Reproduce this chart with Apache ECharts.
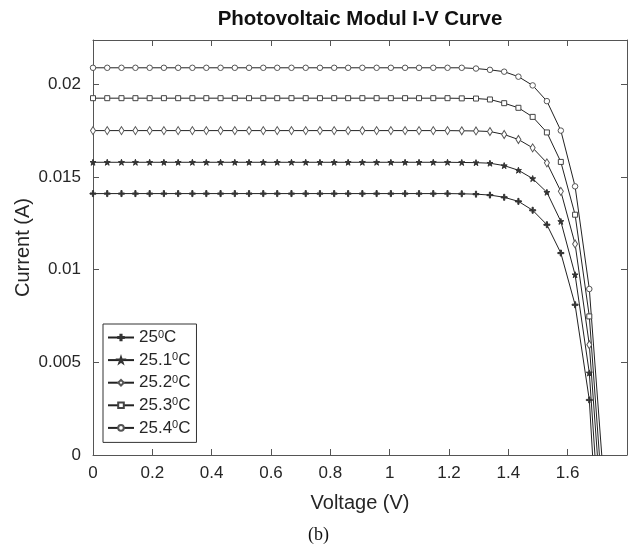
<!DOCTYPE html>
<html>
<head>
<meta charset="utf-8">
<script src="https://cdn.jsdelivr.net/npm/echarts@6/dist/echarts.min.js"></script>
<style>
  html, body { margin: 0; padding: 0; background: #fff; }
  #chart { width: 637px; height: 548px; }
</style>
</head>
<body>
<div id="chart"></div>
<script>
// Module terminal voltage (V) at each sample
const voltage = [
  0, 0.048, 0.096, 0.143, 0.191, 0.239, 0.287, 0.335, 0.382, 0.430,
  0.478, 0.526, 0.574, 0.621, 0.669, 0.717, 0.765, 0.813, 0.860, 0.908,
  0.956, 1.004, 1.052, 1.099, 1.147, 1.195, 1.243, 1.291, 1.338, 1.386,
  1.434, 1.482, 1.530, 1.577, 1.625, 1.673, 1.721
];

// Module current (A) for each cell temperature
const current250 = [
  0.01411, 0.01411, 0.01411, 0.01411, 0.01411, 0.01411, 0.01411, 0.01411, 0.01411, 0.01411,
  0.01411, 0.01411, 0.01411, 0.01411, 0.01411, 0.01411, 0.01411, 0.01411, 0.01411, 0.01411,
  0.01411, 0.01411, 0.01411, 0.01411, 0.01411, 0.01411, 0.01410, 0.01408, 0.01403, 0.01391,
  0.01369, 0.01321, 0.01243, 0.01090, 0.00811, 0.00297, -0.0100
];
const current251 = [
  0.01580, 0.01580, 0.01580, 0.01580, 0.01580, 0.01580, 0.01580, 0.01580, 0.01580, 0.01580,
  0.01580, 0.01580, 0.01580, 0.01580, 0.01580, 0.01580, 0.01580, 0.01580, 0.01580, 0.01580,
  0.01580, 0.01580, 0.01580, 0.01580, 0.01580, 0.01580, 0.01579, 0.01578, 0.01575, 0.01562,
  0.01537, 0.01492, 0.01418, 0.01261, 0.00973, 0.00443, -0.0068
];
const current252 = [
  0.01751, 0.01751, 0.01751, 0.01751, 0.01751, 0.01751, 0.01751, 0.01751, 0.01751, 0.01751,
  0.01751, 0.01751, 0.01751, 0.01751, 0.01751, 0.01751, 0.01751, 0.01751, 0.01751, 0.01751,
  0.01751, 0.01751, 0.01751, 0.01751, 0.01751, 0.01751, 0.01750, 0.01749, 0.01746, 0.01730,
  0.01703, 0.01658, 0.01577, 0.01423, 0.01139, 0.00595, -0.0046
];
const current253 = [
  0.01926, 0.01926, 0.01926, 0.01926, 0.01926, 0.01926, 0.01926, 0.01926, 0.01926, 0.01926,
  0.01926, 0.01926, 0.01926, 0.01926, 0.01926, 0.01926, 0.01926, 0.01926, 0.01926, 0.01926,
  0.01926, 0.01926, 0.01926, 0.01926, 0.01926, 0.01926, 0.01925, 0.01924, 0.01919, 0.01899,
  0.01874, 0.01825, 0.01741, 0.01582, 0.01297, 0.00748, -0.0031
];
const current254 = [
  0.02090, 0.02090, 0.02090, 0.02090, 0.02090, 0.02090, 0.02090, 0.02090, 0.02090, 0.02090,
  0.02090, 0.02090, 0.02090, 0.02090, 0.02090, 0.02090, 0.02090, 0.02090, 0.02090, 0.02090,
  0.02090, 0.02090, 0.02090, 0.02090, 0.02090, 0.02090, 0.02090, 0.02086, 0.02079, 0.02069,
  0.02042, 0.01995, 0.01910, 0.01751, 0.01450, 0.00896, -0.0013
];

const seriesNames = ['25⁰C', '25.1⁰C', '25.2⁰C', '25.3⁰C', '25.4⁰C'];
const currents = [current250, current251, current252, current253, current254];

const xTicks = [0, 0.2, 0.4, 0.6, 0.8, 1, 1.2, 1.4, 1.6];
const yTicks = [0, 0.005, 0.01, 0.015, 0.02];

// Marker shapes per curve: plus, star, diamond, square, circle
const markers = [
  { symbol: 'path://M4,0h2v4h4v2h-4v4h-2v-4h-4v-2h4z', size: 6, fill: '#333', border: '#333' },
  { symbol: 'path://M5,0L6.2,3.4L9.8,3.4L6.9,5.6L8,9L5,6.9L2,9L3.1,5.6L0.2,3.4L3.8,3.4z', size: 6, fill: '#333', border: '#333' },
  { symbol: 'diamond', size: [5, 8], fill: '#fff', border: '#555' },
  { symbol: 'rect', size: 5, fill: '#fff', border: '#444' },
  { symbol: 'circle', size: 5.5, fill: '#fff', border: '#555' }
];

const FONT = '"Liberation Sans", Arial, sans-serif';
const INK = '#262626';
const AXIS = '#555';

const series = seriesNames.map((name, s) => ({
  name: name,
  type: 'line',
  data: voltage.map((v, k) => [v, currents[s][k]]),
  symbol: markers[s].symbol,
  symbolSize: markers[s].size,
  showAllSymbol: true,
  clip: true,
  lineStyle: { color: '#222', width: 1 },
  itemStyle: { color: markers[s].fill, borderColor: markers[s].border, borderWidth: 1 },
  emphasis: { disabled: true },
  animation: false
}));

const chart = echarts.init(document.getElementById('chart'), null, { renderer: 'canvas' });

const onTick = (list) => (val) => list.some(t => Math.abs(t - val) < 1e-9) ? String(val) : '';

const boxAxisLine = { show: true, onZero: false, lineStyle: { color: AXIS, width: 1 } };
const boxAxisTick = { show: true, inside: true, length: 6, lineStyle: { color: AXIS } };

chart.setOption({
  backgroundColor: '#fff',
  animation: false,
  title: {
    text: 'Photovoltaic Modul I-V Curve',
    left: 355,
    textAlign: 'center',
    top: 4,
    textStyle: { fontFamily: FONT, fontSize: 20.5, fontWeight: 'bold', color: '#111' }
  },
  legend: {
    orient: 'vertical',
    left: 103,
    top: 324,
    padding: [5, 6, 6, 4],
    itemWidth: 26,
    itemHeight: 7,
    itemGap: 5.6,
    borderColor: '#333',
    borderWidth: 1,
    backgroundColor: '#fff',
    data: seriesNames,
    formatter: (name) => name.replace('⁰C', '{sup|0}C'),
    textStyle: {
      fontFamily: FONT, fontSize: 17, lineHeight: 17, color: INK,
      rich: {
        sup: { fontFamily: FONT, fontSize: 11, lineHeight: 17, verticalAlign: 'top', color: INK }
      }
    }
  },
  grid: { left: 93, right: 10, top: 40, bottom: 93, containLabel: false },
  xAxis: [
    {
      type: 'value', min: 0, max: 1.8, interval: 0.2,
      name: 'Voltage (V)', nameLocation: 'middle', nameGap: 38,
      nameMoveOverlap: false,
      nameTextStyle: { fontFamily: FONT, fontSize: 20, color: INK },
      axisLine: boxAxisLine,
      axisTick: boxAxisTick,
      axisLabel: { fontFamily: FONT, fontSize: 17, color: INK, margin: 10, formatter: onTick(xTicks) },
      splitLine: { show: false }
    },
    {
      type: 'value', min: 0, max: 1.8, interval: 0.2, position: 'top',
      axisLine: boxAxisLine,
      axisTick: boxAxisTick,
      axisLabel: { show: false },
      splitLine: { show: false }
    }
  ],
  yAxis: [
    {
      type: 'value', min: 0, max: 0.0224, interval: 0.005,
      name: 'Current (A)', nameLocation: 'middle', nameGap: 60,
      nameMoveOverlap: false,
      nameTextStyle: { fontFamily: FONT, fontSize: 20, color: INK },
      axisLine: boxAxisLine,
      axisTick: boxAxisTick,
      axisLabel: { fontFamily: FONT, fontSize: 17, color: INK, margin: 12, formatter: onTick(yTicks) },
      splitLine: { show: false }
    },
    {
      type: 'value', min: 0, max: 0.0224, interval: 0.005, position: 'right',
      axisLine: boxAxisLine,
      axisTick: boxAxisTick,
      axisLabel: { show: false },
      splitLine: { show: false }
    }
  ],
  graphic: [
    {
      type: 'text',
      left: 'center',
      top: 526,
      style: { text: '(b)', font: '18px "Liberation Serif", "Times New Roman", serif', fill: '#111' }
    }
  ],
  series: series
});
</script>
</body>
</html>
